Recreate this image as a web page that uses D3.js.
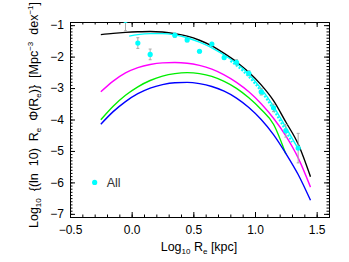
<!DOCTYPE html>
<html>
<head>
<meta charset="utf-8">
<script src="https://cdn.jsdelivr.net/npm/d3@7"></script>
<style>
  body { margin: 0; background: #fff; }
  svg { display: block; font-family: "Liberation Sans", Arial, sans-serif; }
  .axis path, .axis line { stroke: #000; }
  .axis text { font-size: 12px; fill: #000; }
</style>
</head>
<body>
<div id="chart"></div>
<script>
// model curves, log10 Re vs log10 density
const curveX = [-0.25, -0.15, -0.05, 0.05, 0.15, 0.25, 0.35, 0.45, 0.55, 0.65, 0.75, 0.85, 0.95, 1.05, 1.15, 1.25, 1.35, 1.45];
const blackY = [-1.30, -1.26, -1.23, -1.21, -1.20, -1.22, -1.27, -1.35, -1.48, -1.66, -1.90, -2.17, -2.50, -2.90, -3.40, -4.08, -4.78, -5.82];
const magentaY = [-3.12, -2.78, -2.52, -2.35, -2.25, -2.20, -2.19, -2.21, -2.28, -2.40, -2.58, -2.82, -3.12, -3.50, -3.96, -4.52, -5.22, -6.15];
const greenY = [-4.01, -3.58, -3.23, -2.96, -2.76, -2.62, -2.54, -2.51, -2.54, -2.63, -2.79, -3.01, -3.31, -3.68, -4.15, -5.10, null, null];
const blueY = [-4.15, -3.75, -3.43, -3.18, -3.00, -2.89, -2.83, -2.82, -2.86, -2.95, -3.10, -3.32, -3.62, -4.00, -4.48, -5.08, -5.75, -6.57];

const cyanX = [-0.02, 0.05, 0.15, 0.25, 0.35, 0.45, 0.55, 0.65, 0.75, 0.85, 0.95, 1.05, 1.15, 1.25, 1.35];
const cyanY = [-1.35, -1.30, -1.27, -1.27, -1.31, -1.40, -1.54, -1.72, -1.95, -2.22, -2.56, -3.02, -3.58, -4.25, -4.93];
const dashX = [0.80, 0.90, 1.00, 1.10, 1.20, 1.30];
const dashY = [-2.14, -2.45, -2.86, -3.38, -4.02, -4.72];

// binned measurements
const ptX = [-0.05, 0.05, 0.15, 0.35, 0.45, 0.55, 0.65, 0.75, 0.85, 0.95, 1.05, 1.15, 1.25, 1.35];
const ptY = [-0.85, -1.57, -1.93, -1.32, -1.47, -1.83, -1.60, -2.03, -2.18, -2.53, -3.12, -3.63, -4.36, -4.91];
const ptErr = [0.33, 0.17, 0.17, 0.07, 0.06, 0.05, 0.05, 0.06, 0.08, 0.08, 0.10, 0.12, 0.20, 0.47];

const xTicks = [-0.5, 0.0, 0.5, 1.0, 1.5];
const yTicks = [-7, -6, -5, -4, -3, -2, -1];

const W = 349, H = 262;
const margin = { top: 22, right: 20, bottom: 45, left: 70 };
const width = W - margin.left - margin.right;
const height = H - margin.top - margin.bottom;

const svg = d3.select('#chart').append('svg')
  .attr('width', W)
  .attr('height', H);

const g = svg.append('g')
  .attr('transform', `translate(${margin.left},${margin.top})`);

const x = d3.scaleLinear().domain([-0.5, 1.6]).range([0, width]);
const y = d3.scaleLinear().domain([-7.1, -0.9]).range([height, 0]);

svg.append('defs').append('clipPath').attr('id', 'clip')
  .append('rect').attr('width', width).attr('height', height);

const xMinor = d3.range(-5, 16).map(d => d / 10);
const yMinor = d3.range(-71, -8).map(d => d / 10);

function axis(gen, scale, vals, size, labels) {
  return gen(scale).tickValues(vals).tickSize(size).tickSizeOuter(0).tickPadding(4)
    .tickFormat(labels ? labels : '');
}

// bottom
g.append('g').attr('class', 'axis').attr('transform', `translate(0,${height})`)
  .call(axis(d3.axisBottom, x, xMinor, -2.5, null));
g.append('g').attr('class', 'axis').attr('transform', `translate(0,${height})`)
  .call(axis(d3.axisBottom, x, xTicks, -5, d3.format('.1f')))
  .call(s => s.selectAll('text').attr('dy', '0.71em').attr('y', 8));
// top
g.append('g').attr('class', 'axis')
  .call(axis(d3.axisTop, x, xMinor, -2.5, null));
g.append('g').attr('class', 'axis')
  .call(axis(d3.axisTop, x, xTicks, -5, null));
// left
g.append('g').attr('class', 'axis')
  .call(axis(d3.axisLeft, y, yMinor, -2.5, null));
g.append('g').attr('class', 'axis')
  .call(axis(d3.axisLeft, y, yTicks, -5, d3.format('d')))
  .call(s => s.selectAll('text').attr('x', -6));
// right
g.append('g').attr('class', 'axis').attr('transform', `translate(${width},0)`)
  .call(axis(d3.axisRight, y, yMinor, -2.5, null));
g.append('g').attr('class', 'axis').attr('transform', `translate(${width},0)`)
  .call(axis(d3.axisRight, y, yTicks, -5, null));

const plot = g.append('g').attr('clip-path', 'url(#clip)');

const line = d3.line()
  .defined(d => d[1] != null)
  .x(d => x(d[0]))
  .y(d => y(d[1]))
  .curve(d3.curveMonotoneX);

const models = [
  { ys: blackY, color: '#000000' },
  { ys: magentaY, color: '#ff00ff' },
  { ys: greenY, color: '#00ee00' },
  { ys: blueY, color: '#0000ff' },
];

models.forEach(m => {
  plot.append('path')
    .datum(curveX.map((d, i) => [d, m.ys[i]]))
    .attr('fill', 'none')
    .attr('stroke', m.color)
    .attr('stroke-width', 1.4)
    .attr('d', line);
});

plot.append('path')
  .datum(dashX.map((d, i) => [d, dashY[i]]))
  .attr('fill', 'none')
  .attr('stroke', '#00ffff')
  .attr('stroke-width', 2)
  .attr('stroke-dasharray', '2,1.5')
  .attr('d', line);

plot.append('path')
  .datum(cyanX.map((d, i) => [d, cyanY[i]]))
  .attr('fill', 'none')
  .attr('stroke', '#00ffff')
  .attr('stroke-width', 1.4)
  .attr('d', line);

const pts = ptX.map((d, i) => ({ x: d, y: ptY[i], e: ptErr[i] }));

plot.selectAll('.err')
  .data(pts)
  .enter()
  .append('line')
  .attr('class', 'err')
  .attr('x1', d => x(d.x))
  .attr('x2', d => x(d.x))
  .attr('y1', d => y(d.y + d.e))
  .attr('y2', d => y(d.y - d.e))
  .attr('stroke', '#aaaaaa')
  .attr('stroke-width', 1);

plot.selectAll('.cap')
  .data(pts.flatMap(d => [{ x: d.x, v: d.y + d.e }, { x: d.x, v: d.y - d.e }]))
  .enter()
  .append('line')
  .attr('class', 'cap')
  .attr('x1', d => x(d.x) - 1.5)
  .attr('x2', d => x(d.x) + 1.5)
  .attr('y1', d => y(d.v))
  .attr('y2', d => y(d.v))
  .attr('stroke', '#aaaaaa')
  .attr('stroke-width', 1);

plot.selectAll('.pt')
  .data(pts)
  .enter()
  .append('circle')
  .attr('class', 'pt')
  .attr('cx', d => x(d.x))
  .attr('cy', d => y(d.y))
  .attr('r', 2.6)
  .attr('fill', '#00ffff');

// legend
g.append('circle')
  .attr('cx', x(-0.3))
  .attr('cy', y(-6.0))
  .attr('r', 2.6)
  .attr('fill', '#00ffff');
g.append('text')
  .attr('x', x(-0.3) + 12)
  .attr('y', y(-6.0) + 4.5)
  .attr('font-size', 12.5)
  .attr('fill', '#333')
  .text('All');

// axis titles
const xt = svg.append('text')
  .attr('x', 199)
  .attr('y', 251)
  .attr('text-anchor', 'middle')
  .attr('font-size', 12.5);
xt.append('tspan').text('Log');
xt.append('tspan').attr('font-size', 8).attr('dy', 3).text('10');
xt.append('tspan').attr('dy', -3).text(' R');
xt.append('tspan').attr('font-size', 8).attr('dy', 3).text('e');
xt.append('tspan').attr('dy', -3).text(' [kpc]');

const yt = svg.append('text')
  .attr('transform', `translate(38,115) rotate(-90)`)
  .attr('text-anchor', 'middle')
  .attr('font-size', 12.5)
  .attr('xml:space', 'preserve');
yt.append('tspan').text('Log');
yt.append('tspan').attr('font-size', 8).attr('dy', 3).text('10');
yt.append('tspan').attr('dy', -3).text('  {(ln  10)  R');
yt.append('tspan').attr('font-size', 8).attr('dy', 3).text('e');
yt.append('tspan').attr('dy', -3).text('  Φ(R');
yt.append('tspan').attr('font-size', 8).attr('dy', 3).text('e');
yt.append('tspan').attr('dy', -3).text(')}  [Mpc');
yt.append('tspan').attr('font-size', 8).attr('dy', -5).text('−3');
yt.append('tspan').attr('dy', 5).text('  dex');
yt.append('tspan').attr('font-size', 8).attr('dy', -5).text('−1');
yt.append('tspan').attr('dy', 5).text(']');
</script>
</body>
</html>
